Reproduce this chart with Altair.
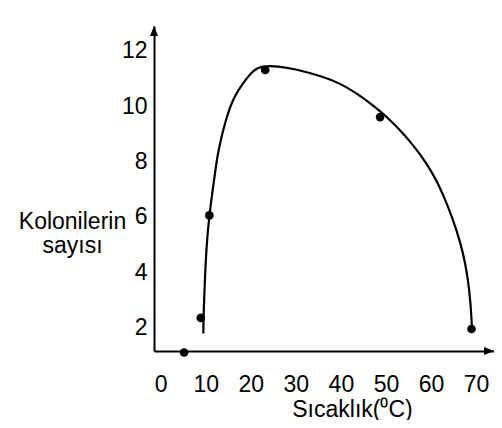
import altair as alt
import pandas as pd

# Observed points (temperature, number of colonies)
temp_pts = [5.2, 8.9, 10.8, 23.2, 48.7, 69.0]
count_pts = [1.1, 2.35, 6.05, 11.3, 9.6, 1.95]

# Points
curve_x = [9.46, 9.54, 9.83, 10.21, 10.79, 11.54, 12.05, 12.56, 13.32, 14.27,
           15.38, 16.56, 18.27, 20.56, 22.42, 26.10, 29.81, 36.09, 39.80, 43.51,
           47.19, 50.17, 53.12, 56.07, 59.05, 61.62, 63.84, 65.70, 67.17, 68.15,
           68.81, 69.10]
curve_y = [1.79, 2.64, 3.84, 5.04, 6.06, 6.97, 7.57, 8.17, 8.77, 9.38,
           9.97, 10.40, 10.83, 11.30, 11.45, 11.44, 11.34, 11.06, 10.82, 10.46,
           10.02, 9.62, 9.13, 8.59, 7.93, 7.21, 6.36, 5.52, 4.68, 3.84,
           2.88, 1.97]

x_ticks = [0, 10, 20, 30, 40, 50, 60, 70]
y_ticks = [2, 4, 6, 8, 10, 12]

x_dom = [-1.49, 73.99]
y_dom = [1.155, 12.89]

FONT = "Liberation Sans"
FS = 23

pts = pd.DataFrame({"t": temp_pts, "n": count_pts})
curve = pd.DataFrame({"t": curve_x, "n": curve_y})

xs = alt.Scale(domain=x_dom, nice=False, zero=False)
ys = alt.Scale(domain=y_dom, nice=False, zero=False)

x_axis = alt.Axis(values=x_ticks, ticks=False, grid=False, labelFont=FONT, labelFontSize=FS,
                  labelColor="black", labelPadding=22, domainColor="black", domainWidth=2,
                  title="Sıcaklık(⁰C)", titleFont=FONT, titleFontSize=FS, titleFontWeight="normal",
                  titleColor="black", titleX=198, titleY=65, titleAlign="center",
                  titleBaseline="alphabetic", labelFlush=False, labelOverlap=False)
y_axis = alt.Axis(values=y_ticks, ticks=False, grid=False, labelFont=FONT, labelFontSize=FS,
                  labelColor="black", labelPadding=7, domainColor="black", domainWidth=2,
                  title=["Kolonilerin", "sayısı"], titleFont=FONT, titleFontSize=FS,
                  titleFontWeight="normal", titleColor="black", titleAngle=0,
                  titleX=-82, titleY=202, titleAlign="center", titleBaseline="alphabetic",
                  titleLineHeight=24, labelFlush=False, labelOverlap=False)

line = alt.Chart(curve).mark_line(
    color="black", strokeWidth=2.2, interpolate="basis"
).encode(
    x=alt.X("t:Q", scale=xs, axis=x_axis),
    y=alt.Y("n:Q", scale=ys, axis=y_axis),
)

dots = alt.Chart(pts).mark_circle(color="black", size=75, opacity=1).encode(
    x=alt.X("t:Q", scale=xs),
    y=alt.Y("n:Q", scale=ys),
)

up_df = pd.DataFrame({"t": [x_dom[0]], "n": [y_dom[1]]})
right_df = pd.DataFrame({"t": [x_dom[1]], "n": [y_dom[0]]})

arrow_up = alt.Chart(up_df).mark_point(
    shape="M0,0 L0.8,2 L-0.8,2 Z", filled=True, color="black", opacity=1, size=100, strokeWidth=0
).encode(x=alt.X("t:Q", scale=xs), y=alt.Y("n:Q", scale=ys))

arrow_right = alt.Chart(right_df).mark_point(
    shape="M0,0 L-2,0.8 L-2,-0.8 Z", filled=True, color="black", opacity=1, size=100, strokeWidth=0
).encode(x=alt.X("t:Q", scale=xs), y=alt.Y("n:Q", scale=ys))

chart = alt.layer(line, dots, arrow_up, arrow_right).properties(
    width=340, height=325,
    autosize=alt.AutoSizeParams(type="none"),
    padding={"left": 146, "top": 18, "right": 0, "bottom": 69},
).configure_view(stroke=None)

chart.save("out.html", embed_options={"renderer": "svg", "actions": False})
